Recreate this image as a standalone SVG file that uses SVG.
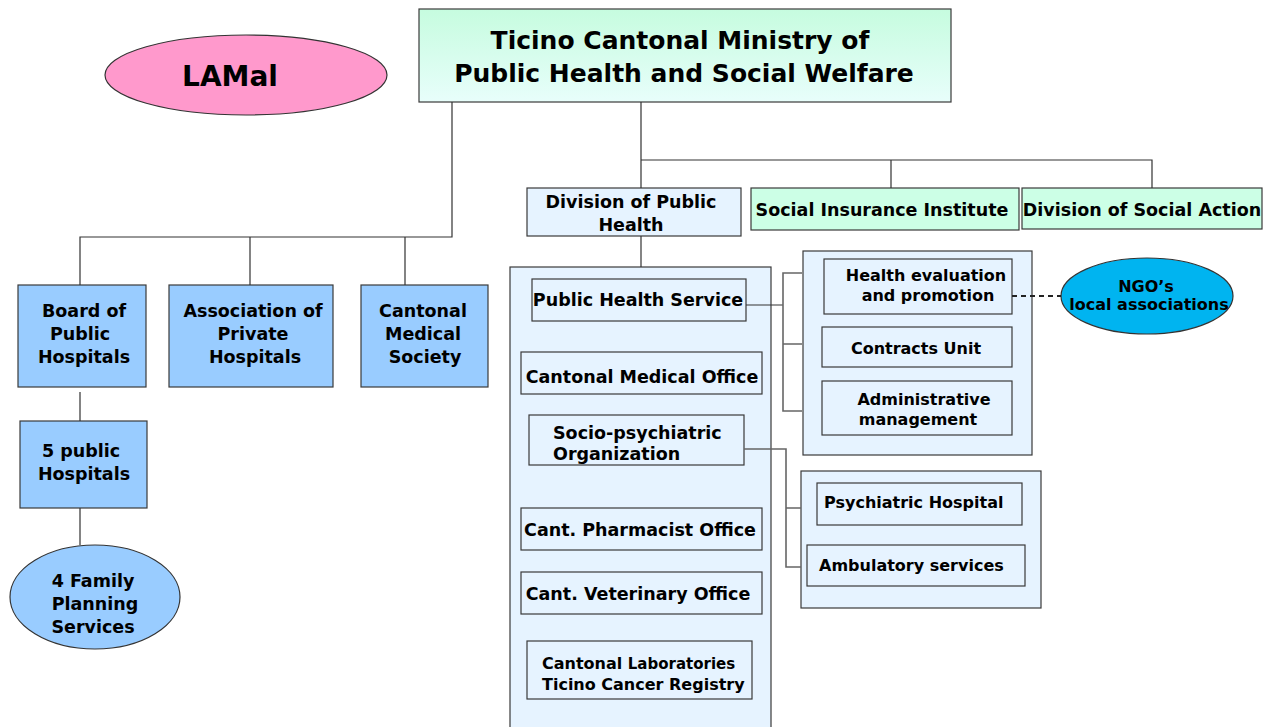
<svg xmlns="http://www.w3.org/2000/svg" width="1270" height="727" viewBox="0 0 1270 727">
  <defs>
    <linearGradient id="gTop" x1="0" y1="0" x2="0" y2="1">
      <stop offset="0" stop-color="#c6fcdf"/>
      <stop offset="1" stop-color="#e8fefb"/>
    </linearGradient>
  </defs>
  <style>
    text { font-family: "DejaVu Sans", "Liberation Sans", sans-serif; font-weight: bold; fill: #000; }
    .c { text-anchor: middle; }
    .t17 { font-size: 17.5px; }
    .t16 { font-size: 16px; }
    .big { font-size: 25px; }
    .box { stroke: #3a3a3a; stroke-width: 1.2; }
    .pale { fill: #e6f3ff; }
    .mid { fill: #99ccff; }
    .mint { fill: #ccffe6; }
    .wire { fill: none; stroke: #333; stroke-width: 1.2; }
    .gwire { fill: none; stroke: #666; stroke-width: 1.6; }
  </style>
  <rect width="1270" height="727" fill="#fff"/>

  <g id="lamal">
    <ellipse cx="246" cy="75" rx="141" ry="40" fill="#ff99cc" stroke="#333" stroke-width="1.2"/>
    <text class="c" x="230" y="86" style="font-size:28px">LAMal</text>
  </g>

  <g id="ministry">
    <rect class="box" x="419" y="9" width="532" height="93" fill="url(#gTop)"/>
    <text class="c big" x="680" y="49">Ticino Cantonal Ministry of</text>
    <text class="c big" x="684" y="82">Public Health and Social Welfare</text>
  </g>

  <g id="div-public-health">
    <rect class="box pale" x="527" y="188" width="214" height="48"/>
    <text class="c t17" x="631" y="208">Division of Public</text>
    <text class="c t17" x="631" y="231">Health</text>
  </g>

  <g id="social-insurance">
    <rect class="box mint" x="751" y="188" width="268" height="42"/>
    <text class="c t17" x="882" y="216">Social Insurance Institute</text>
  </g>

  <g id="social-action">
    <rect class="box mint" x="1022" y="188" width="240" height="41"/>
    <text class="c t17" x="1142" y="216">Division of Social Action</text>
  </g>

  <g id="board-public-hospitals">
    <rect class="box mid" x="18" y="285" width="128" height="102"/>
    <text class="c t17" x="84" y="317">Board of</text>
    <text class="c t17" x="80" y="340">Public</text>
    <text class="c t17" x="84" y="363">Hospitals</text>
  </g>

  <g id="assoc-private-hospitals">
    <rect class="box mid" x="169" y="285" width="164" height="102"/>
    <text class="c t17" x="253" y="317">Association of</text>
    <text class="c t17" x="253" y="340">Private</text>
    <text class="c t17" x="255" y="363">Hospitals</text>
  </g>

  <g id="cantonal-medical-society">
    <rect class="box mid" x="361" y="285" width="127" height="102"/>
    <text class="c t17" x="423" y="317">Cantonal</text>
    <text class="c t17" x="423" y="340">Medical</text>
    <text class="c t17" x="425" y="363">Society</text>
  </g>

  <g id="public-hospitals">
    <rect class="box mid" x="20" y="421" width="127" height="87"/>
    <text class="c t17" x="81" y="457">5 public</text>
    <text class="c t17" x="84" y="480">Hospitals</text>
  </g>

  <g id="family-planning">
    <ellipse cx="95" cy="597" rx="85" ry="52" fill="#99ccff" stroke="#333" stroke-width="1.2"/>
    <text class="c t17" x="93" y="587">4 Family</text>
    <text class="c t17" x="95" y="610">Planning</text>
    <text class="c t17" x="93" y="633">Services</text>
  </g>

  <g id="public-health-division-units">
    <rect class="box pale" x="510" y="267" width="261" height="470"/>
  </g>

  <g id="public-health-service">
    <rect class="box pale" x="532" y="279" width="214" height="42"/>
    <text class="c t17" x="638" y="306">Public Health Service</text>
  </g>

  <g id="cantonal-medical-office">
    <rect class="box pale" x="521" y="352" width="241" height="42"/>
    <text class="c t17" x="642" y="383">Cantonal Medical Office</text>
  </g>

  <g id="socio-psychiatric">
    <rect class="box pale" x="529" y="415" width="215" height="50"/>
    <text class="t17" x="553" y="439">Socio-psychiatric</text>
    <text class="t17" x="553" y="460">Organization</text>
  </g>

  <g id="pharmacist-office">
    <rect class="box pale" x="521" y="508" width="241" height="42"/>
    <text class="c t17" x="640" y="536">Cant. Pharmacist Office</text>
  </g>

  <g id="veterinary-office">
    <rect class="box pale" x="521" y="572" width="241" height="42"/>
    <text class="c t17" x="638" y="600">Cant. Veterinary Office</text>
  </g>

  <g id="laboratories">
    <rect class="box pale" x="527" y="641" width="225" height="58"/>
    <text class="t16" x="542" y="669">Cantonal <tspan style="font-size:15px">Laboratories</tspan></text>
    <text class="t16" x="542" y="690">Ticino Cancer Registry</text>
  </g>

  <g id="public-health-service-units">
    <rect class="box pale" x="803" y="251" width="229" height="204"/>
  </g>

  <g id="health-evaluation">
    <rect class="box pale" x="824" y="259" width="188" height="55"/>
    <text class="c t16" x="926" y="281">Health evaluation</text>
    <text class="c t16" x="928" y="301">and promotion</text>
  </g>

  <g id="contracts-unit">
    <rect class="box pale" x="822" y="327" width="190" height="40"/>
    <text class="c t16" x="916" y="354">Contracts Unit</text>
  </g>

  <g id="admin-management">
    <rect class="box pale" x="822" y="381" width="190" height="54"/>
    <text class="c t16" x="924" y="405">Administrative</text>
    <text class="c t16" x="918" y="425">management</text>
  </g>

  <g id="ngo">
    <ellipse cx="1147" cy="296" rx="86" ry="38" fill="#00b4f0" stroke="#333" stroke-width="1.2"/>
    <text class="c t16" x="1146" y="292">NGO’s</text>
    <text class="c t16" x="1149" y="310">local associations</text>
  </g>

  <g id="socio-psychiatric-units">
    <rect class="box pale" x="801" y="471" width="240" height="137"/>
  </g>

  <g id="psychiatric-hospital">
    <rect class="box pale" x="817" y="483" width="205" height="42"/>
    <text class="t16" x="824" y="508">Psychiatric Hospital</text>
  </g>

  <g id="ambulatory-services">
    <rect class="box pale" x="807" y="545" width="218" height="41"/>
    <text class="t16" x="819" y="571">Ambulatory services</text>
  </g>

  <!-- connectors, drawn last so they sit over the container frames -->
  <g id="connectors">
    <!-- ministry to left-hand bodies -->
    <path class="wire" d="M452 102 V237 H80 V285 M250 237 V285 M405 237 V285"/>
    <path class="wire" d="M80 392 V421 M80 508 V545"/>
    <!-- ministry to divisions -->
    <path class="wire" d="M641 102 V188 M641 160 H1152 V188 M891 160 V188"/>
    <path class="wire" d="M641 236 V267"/>
    <!-- public health service bracket -->
    <path class="wire" d="M746 305 H783"/>
    <path class="gwire" d="M802 273 H783 V411 H802 M783 344 H802"/>
    <!-- socio-psychiatric bracket -->
    <path class="gwire" d="M744 449 H786 V567 H801 M786 508 H801"/>
    <!-- NGO link -->
    <path d="M1012 296 H1061" fill="none" stroke="#222" stroke-width="2" stroke-dasharray="5,4"/>
  </g>
</svg>
